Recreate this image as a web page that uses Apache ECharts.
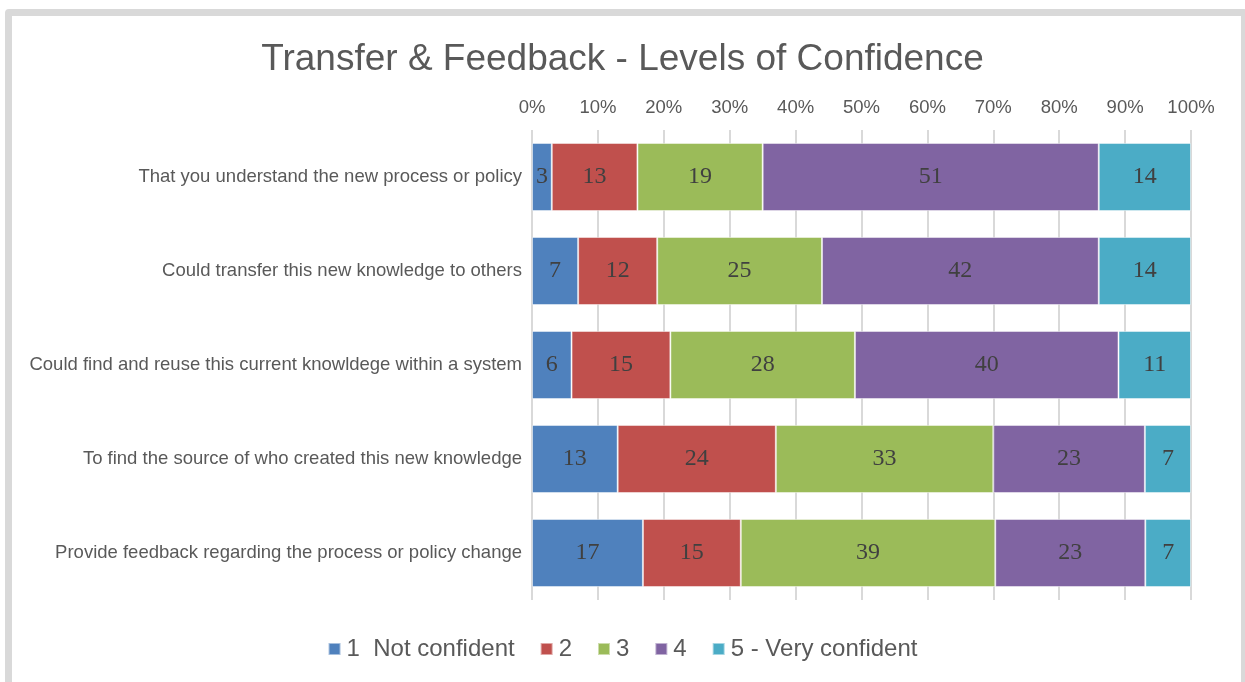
<!DOCTYPE html>
<html>
<head>
<meta charset="utf-8">
<script src="https://cdn.jsdelivr.net/npm/echarts@6/dist/echarts.min.js"></script>
<style>
  html, body { margin: 0; padding: 0; background: #fff; overflow: hidden; }
  #frame { position: absolute; left: 5px; top: 9px; width: 1243px; height: 700px; box-sizing: border-box; border: 7px solid #d9d9d9; border-radius: 4px; }
  #chart { position: absolute; left: 0; top: 0; width: 1245px; height: 682px; }
</style>
</head>
<body>
<div id="frame"></div>
<div id="chart"></div>
<script>
const categories = [
  "That you understand the new process or policy",
  "Could transfer this new knowledge to others",
  "Could find and reuse this current knowldege within a system",
  "To find the source of who created this new knowledge",
  "Provide feedback regarding the process or policy change"
];
const seriesNames = ["1  Not confident", "2", "3", "4", "5 - Very confident"];
const level1 = [3, 7, 6, 13, 17];
const level2 = [13, 12, 15, 24, 15];
const level3 = [19, 25, 28, 33, 39];
const level4 = [51, 42, 40, 23, 23];
const level5 = [14, 14, 11, 7, 7];
const colors = ["#4F81BD", "#C0504D", "#9BBB59", "#8064A2", "#4BACC6"];

const allSeries = [level1, level2, level3, level4, level5];
const totals = categories.map((_, i) => allSeries.reduce((s, arr) => s + arr[i], 0));

const chart = echarts.init(document.getElementById('chart'));
chart.setOption({
  animation: false,
  title: {
    text: "Transfer & Feedback - Levels of Confidence",
    left: 'center', top: 36,
    textStyle: { fontFamily: 'Liberation Sans, Arial, sans-serif', fontSize: 37, fontWeight: 'normal', color: '#595959' }
  },
  legend: {
    bottom: 16, left: 'center',
    itemWidth: 12, itemHeight: 12, itemGap: 25,
    icon: 'rect',
    textStyle: { fontFamily: 'Liberation Sans, Arial, sans-serif', fontSize: 24, color: '#595959', padding: [0, 0, 0, 1] },
    data: seriesNames
  },
  grid: { left: 532, right: 54, top: 130, bottom: 82 },
  xAxis: {
    type: 'value', position: 'top', min: 0, max: 100, interval: 10,
    axisLabel: { formatter: '{value}%', fontFamily: 'Liberation Sans, Arial, sans-serif', fontSize: 18.5, color: '#595959', margin: 13 },
    axisLine: { show: false }, axisTick: { show: false },
    splitLine: { lineStyle: { color: '#d9d9d9', width: 2 } }
  },
  yAxis: {
    type: 'category', inverse: true, data: categories,
    axisLine: { show: false }, axisTick: { show: false },
    axisLabel: { fontFamily: 'Liberation Sans, Arial, sans-serif', fontSize: 18.5, color: '#595959', margin: 10 }
  },
  series: allSeries.map((arr, k) => ({
    name: seriesNames[k], type: 'bar', stack: 'total', barCategoryGap: '27.5%',
    itemStyle: { color: colors[k], borderColor: 'rgba(255,255,255,0.5)', borderWidth: 1 },
    label: {
      show: true, position: 'inside', color: '#404040',
      fontFamily: 'Liberation Serif, DejaVu Serif, serif', fontSize: 24,
      formatter: p => String(arr[p.dataIndex])
    },
    data: arr.map((v, i) => v / totals[i] * 100)
  }))
});
</script>
</body>
</html>
